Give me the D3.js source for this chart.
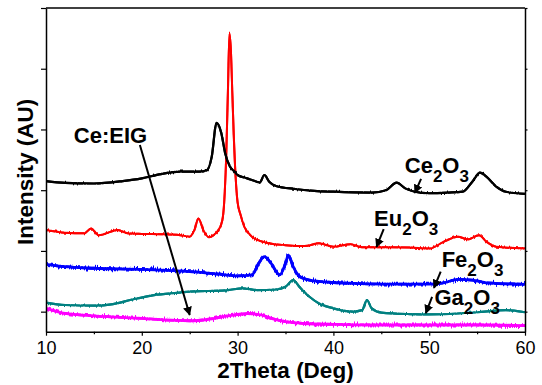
<!DOCTYPE html>
<html><head><meta charset="utf-8">
<script src="https://cdn.jsdelivr.net/npm/d3@7"></script>
<style>body{margin:0;background:#fff}svg{display:block}</style>
</head><body><svg id="c" width="542" height="385"></svg>
<script>
// 2Theta (deg), intensity (a.u.)
const ce2o3 = [[10,3150],[12,3120],[15,3110],[18,3150],[20,3195],[22,3265],[24,3305],[26,3305],[26.8,3330],[27.3,3550],[27.8,4110],[28.3,3940],[28.7,3610],[29.2,3390],[29.7,3305],[30,3250],[31,3195],[32,3140],[32.3,3125],[32.8,3250],[33.3,3140],[34,3070],[36,3020],[38,2990],[40,2975],[44,2960],[45.5,3000],[46.6,3125],[47.5,3030],[48.5,2975],[50,2950],[52,2960],[53.5,2975],[54.5,3140],[55.3,3290],[56,3220],[57,3060],[58,2975],[60,2940]];
const eu2o3 = [[10,2345],[12,2300],[14,2290],[14.7,2370],[15.5,2260],[17.5,2345],[18.5,2290],[20,2280],[22,2275],[24,2260],[25,2235],[25.5,2345],[25.9,2535],[26.5,2315],[27,2225],[27.5,2260],[28,2345],[28.4,2500],[28.6,2800],[28.8,3500],[29.0,4700],[29.15,5580],[29.3,5300],[29.45,4600],[29.6,3900],[29.8,3200],[30.0,2800],[30.3,2600],[30.7,2400],[31.5,2235],[33,2135],[35,2095],[37,2080],[38.5,2125],[40,2070],[41.8,2110],[43,2060],[46,2060],[48,2055],[50,2040],[51.5,2150],[53,2235],[54,2190],[55.2,2260],[56,2150],[57,2070],[60,2040]];
const fe2o3 = [[10,1780],[12,1740],[15,1715],[20,1695],[25,1660],[28,1620],[30,1590],[31.5,1605],[32.2,1795],[32.8,1905],[33.5,1795],[34.4,1605],[35,1795],[35.3,1930],[35.8,1740],[36.5,1575],[38,1505],[40,1480],[42,1465],[45,1455],[50,1455],[51.5,1475],[53,1530],[54.5,1520],[56,1475],[60,1450]];
const ga2o3 = [[10,1150],[12,1110],[15,1100],[17,1125],[19,1200],[21,1265],[23,1300],[25,1330],[27,1340],[29,1355],[30.5,1385],[32,1355],[34,1365],[35,1410],[35.8,1520],[36.5,1400],[37.5,1245],[38.5,1135],[40,1055],[42,1000],[43,1025],[43.5,1190],[44,1055],[45,985],[48,960],[50,955],[53,970],[55,990],[58,1025],[60,990]];
const ceEIG = [[10,1055],[12,970],[15,930],[20,890],[25,850],[27,875],[29,930],[31,970],[32.5,945],[33.5,890],[35,835],[37,805],[40,790],[45,780],[50,780],[55,780],[60,770]];

const seriesNames = ["Ce2O3","Eu2O3","Fe2O3","Ga2O3","Ce:EIG"];
const seriesColors = ["#000000","#ff0000","#0000ff","#008080","#ff00ff"];
const xTicks = [10,20,30,40,50,60];
const xMinor = [15,25,35,45,55];
const yTicks = [1000,2000,3000,4000,5000,6000];

// labels: text parts [text, isSub], text anchor (2theta, intensity), arrow from -> to
const labels = [
  {parts:[["Ce",0],["2",1],["O",0],["3",1]], at:[47.45,3285], from:[49.15,3185], to:[48.5,2955]},
  {parts:[["Eu",0],["2",1],["O",0],["3",1]], at:[44.25,2415], from:[45.25,2360], to:[44.5,2065]},
  {parts:[["Fe",0],["2",1],["O",0],["3",1]], at:[51.3,1740], from:[51.2,1660], to:[50.5,1390]},
  {parts:[["Ga",0],["2",1],["O",0],["3",1]], at:[50.55,1110], from:[50.3,1245], to:[49.65,975]},
  {parts:[["Ce:EIG",0]], at:[12.9,3780], from:[19.8,3745], to:[25.0,945]}
];

const svg = d3.select("#c");
const L=46, R=525, T=8, B=331.7;
const x = d3.scaleLinear().domain([10,60]).range([L,R]);
const y = d3.scaleLinear().domain([670,6000]).range([B,T]);
const FONT = "Arial, 'Liberation Sans', sans-serif";

const defs = svg.append("defs");
defs.append("clipPath").attr("id","clip").append("rect").attr("x",L).attr("y",T-2).attr("width",R-L).attr("height",B-T+1);
const noiseScales = [2.5,4,7,3,7];
noiseScales.forEach((s,i)=>{
  const f = defs.append("filter").attr("id","n"+i).attr("filterUnits","userSpaceOnUse")
    .attr("x",0).attr("y",0).attr("width",542).attr("height",385)
    .attr("color-interpolation-filters","sRGB");
  f.append("feTurbulence").attr("type","fractalNoise").attr("baseFrequency","0.9 0.05").attr("numOctaves",2).attr("seed",i*7+3).attr("result","t");
  const ct = f.append("feComponentTransfer").attr("in","t").attr("result","m");
  ct.append("feFuncR").attr("type","table").attr("tableValues","0.5 0.5");
  ct.append("feFuncA").attr("type","table").attr("tableValues","1 1");
  f.append("feDisplacementMap").attr("in","SourceGraphic").attr("in2","m").attr("scale",s)
    .attr("xChannelSelector","R").attr("yChannelSelector","G").attr("result","d");
  const mg = f.append("feMerge");
  mg.append("feMergeNode").attr("in","d");
  mg.append("feMergeNode").attr("in","SourceGraphic");
});
const mk = defs.append("marker").attr("id","arr").attr("viewBox","0 0 10 10").attr("refX",9).attr("refY",5)
  .attr("markerWidth",4.5).attr("markerHeight",4.5).attr("orient","auto").attr("markerUnits","strokeWidth");
mk.append("path").attr("d","M0,0 L10,5 L0,10 Z").attr("fill","#000");

const line = d3.line().x(d=>x(d[0])).y(d=>y(d[1])).curve(d3.curveMonotoneX);
const data = [ce2o3,eu2o3,fe2o3,ga2o3,ceEIG];
const widths = [2.2,2.0,2.8,2.2,2.8];
const g = svg.append("g").attr("clip-path","url(#clip)");
[4,3,2,1,0].forEach(i=>{
  g.append("path").datum(data[i]).attr("d",line).attr("fill","none")
   .attr("stroke",seriesColors[i]).attr("stroke-width",widths[i]).attr("filter","url(#n"+i+")");
});

// axes
const xAxis = svg.append("g").attr("transform",`translate(0,${B})`)
  .call(d3.axisBottom(x).tickValues(xTicks).tickSize(4).tickSizeOuter(0));
svg.append("g").attr("transform",`translate(0,${B})`)
  .call(d3.axisBottom(x).tickValues(xMinor).tickSize(2.5).tickFormat("")).select(".domain").remove();
svg.append("g").attr("transform",`translate(${L},0)`)
  .call(d3.axisLeft(y).tickValues(yTicks).tickSize(5).tickFormat("").tickSizeOuter(0));
svg.append("g").attr("transform",`translate(${R},0)`)
  .call(d3.axisRight(y).tickValues(yTicks).tickSize(2.5).tickFormat("").tickSizeOuter(0));
svg.append("line").attr("x1",L).attr("x2",R).attr("y1",T).attr("y2",T).attr("stroke","#000").attr("stroke-width",1.5);
svg.selectAll(".domain").attr("stroke","#000").attr("stroke-width",1.5);
svg.selectAll(".tick line").attr("stroke","#000").attr("stroke-width",1.2);
xAxis.selectAll(".tick text").attr("font-family",FONT).attr("font-size",18).attr("fill","#000").attr("dy","0.85em");

svg.append("text").attr("x",(L+R)/2).attr("y",378).attr("text-anchor","middle")
  .attr("font-family",FONT).attr("font-weight","bold").attr("font-size",22.5)
  .text("2Theta (Deg)");
svg.append("text").attr("transform",`translate(33,${(T+B)/2+2}) rotate(-90)`).attr("text-anchor","middle")
  .attr("font-family",FONT).attr("font-weight","bold").attr("font-size",22.5)
  .text("Intensity (AU)");

// annotations
labels.forEach(lb=>{
  const t = svg.append("text").attr("x",x(lb.at[0])).attr("y",y(lb.at[1]))
    .attr("font-family",FONT).attr("font-weight","bold").attr("font-size",22).attr("fill","#000");
  lb.parts.forEach((p,k)=>{
    if(p[1]) t.append("tspan").attr("font-size",17).attr("dy",9).text(p[0]);
    else t.append("tspan").attr("dy",k? -9:0).text(p[0]);
  });
  svg.append("line").attr("x1",x(lb.from[0])).attr("y1",y(lb.from[1])).attr("x2",x(lb.to[0])).attr("y2",y(lb.to[1]))
    .attr("stroke","#000").attr("stroke-width",2).attr("marker-end","url(#arr)");
});
</script></body></html>
